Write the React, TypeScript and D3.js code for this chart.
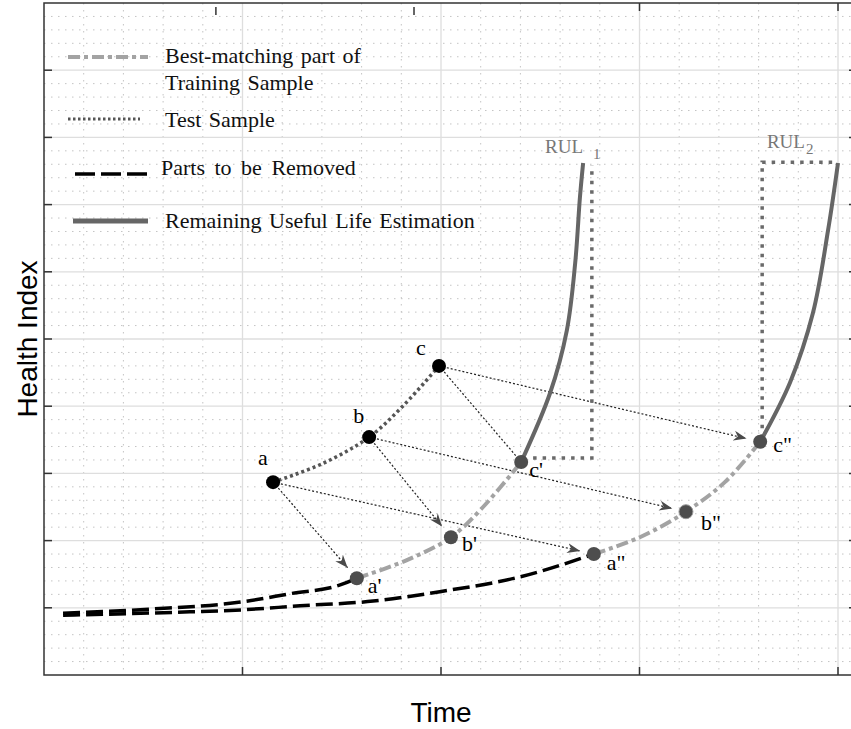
import React from 'react';
import * as d3 from 'd3';

// ---------- data (grid units: x = minor time step, y = health index) ----------
const testSample: [number, number][] = [[5.77, 2.87], [7.03, 3.15], [8.19, 3.54], [9.07, 4.02], [9.95, 4.60]];
const training1: [number, number][] = [[7.88, 1.44], [9.14, 1.71], [10.25, 2.05], [11.06, 2.50], [12.02, 3.17]];
const training2: [number, number][] = [[13.85, 1.80], [15.01, 2.05], [16.17, 2.43], [17.15, 2.87], [18.04, 3.47]];
const removed1: [number, number][] = [[0.48, 0.92], [2.67, 0.98], [5.01, 1.09], [6.20, 1.21], [7.46, 1.34], [7.88, 1.44]];
const removed2: [number, number][] = [[0.48, 0.89], [3.68, 0.94], [5.01, 0.97], [6.45, 1.03], [8.29, 1.10], [9.97, 1.24], [11.99, 1.46], [13.85, 1.80]];
const rul1: [number, number][] = [[12.02, 3.17], [12.75, 4.20], [13.17, 5.13], [13.38, 6.13], [13.50, 7.11], [13.58, 7.62]];
const rul2: [number, number][] = [[18.04, 3.47], [18.79, 4.35], [19.37, 5.39], [19.75, 6.62], [20.0, 7.62]];
const rulBox1: [number, number][] = [[12.32, 3.23], [13.80, 3.23], [13.80, 7.59]];
const rulBox2: [number, number][] = [[18.09, 3.53], [18.09, 7.63], [19.97, 7.63]];

const testPoints = [
  { id: 'a', x: 5.77, y: 2.87 },
  { id: 'b', x: 8.19, y: 3.54 },
  { id: 'c', x: 9.95, y: 4.60 },
];
const trainPoints = [
  { id: "a'", x: 7.88, y: 1.44 },
  { id: "b'", x: 10.25, y: 2.05 },
  { id: "c'", x: 12.02, y: 3.17 },
  { id: 'a"', x: 13.85, y: 1.80 },
  { id: 'b"', x: 16.17, y: 2.43 },
  { id: 'c"', x: 18.04, y: 3.47 },
];
const arrows = [
  { from: 'a', to: "a'", head: true },
  { from: 'a', to: 'a"', head: true },
  { from: 'b', to: "b'", head: true },
  { from: 'b', to: 'b"', head: true },
  { from: 'c', to: "c'", head: false },
  { from: 'c', to: 'c"', head: true },
];
const rulLabels = [
  { main: 'RUL', sub: '1', x: 12.62, y: 7.77 },
  { main: 'RUL', sub: '2', x: 18.21, y: 7.84 },
];
const xMajorTicks = [5, 10, 15, 20];
const yMajorTicks = [1, 2, 3, 4, 5, 6, 7, 8, 9];
const topOddTicks = [4.33, 9.32];
const legendItems = ['Best-matching part of|Training Sample', 'Test Sample', 'Parts to be Removed', 'Remaining Useful Life Estimation'];

// ---------- layout / style ----------
const W = 851, H = 729;
const L = 44, R = 857, T = 3, B = 675;
const X_MAX = (R - L) / 39.7;
const x = d3.scaleLinear().domain([0, X_MAX]).range([L, R]);
const y = d3.scaleLinear().domain([0, 10]).range([B, T]);
const labelOffsets: Record<string, [number, number]> = {
  a: [-15, -17], b: [-16, -14], c: [-23, -11],
  "a'": [11, 15], "b'": [11, 14], "c'": [8, 15],
  'a"': [13, 16], 'b"': [15, 18], 'c"': [13, 10],
};
const SERIF = '"Liberation Serif", "DejaVu Serif", serif';
const SANS = '"Liberation Sans", Arial, sans-serif';

const line = d3.line<[number, number]>().x(d => x(d[0])).y(d => y(d[1])).curve(d3.curveCatmullRom.alpha(0.5));
const smooth = d3.line<[number, number]>().x(d => x(d[0])).y(d => y(d[1])).curve(d3.curveMonotoneX);
const poly = d3.line<[number, number]>().x(d => x(d[0])).y(d => y(d[1]));

export default function App() {
  const minorX = d3.range(1, Math.floor(X_MAX) + 1).filter(v => v % 5 !== 0);
  const minorY = d3.range(0.2, 10, 0.2).filter(v => Math.abs(v - Math.round(v)) > 0.01);
  const all = [...testPoints, ...trainPoints];
  const find = (id: string) => all.find(p => p.id === id)!;

  return (
    <svg width={W} height={H} style={{ position: 'absolute', left: 0, top: 0, background: '#fff' }}>
      <defs>
        <marker id="ah" markerUnits="userSpaceOnUse" markerWidth={15} markerHeight={11} refX={13} refY={5.5} orient="auto">
          <path d="M0,0.5 L13,5.5 L0,10.5 L4,5.5 Z" fill="#4a4a4a" stroke="none" />
        </marker>
        <clipPath id="clip"><rect x={L} y={T} width={R - L} height={B - T} /></clipPath>
      </defs>
      <rect x={0} y={0} width={W} height={H} fill="#fff" />
      {/* grid */}
      <g>
        {minorX.map(v => <line key={'mx' + v} x1={x(v)} x2={x(v)} y1={T} y2={B} stroke="#c4c4c4" strokeWidth={1} strokeDasharray="1.5,5.5" />)}
        {minorY.map(v => <line key={'my' + v} x1={L} x2={R} y1={y(v)} y2={y(v)} stroke="#c4c4c4" strokeWidth={1} strokeDasharray="1.5,5.5" />)}
        {xMajorTicks.map(v => <line key={'Mx' + v} x1={x(v)} x2={x(v)} y1={T} y2={B} stroke="#dedede" strokeWidth={1.3} />)}
        {yMajorTicks.map(v => <line key={'My' + v} x1={L} x2={R} y1={y(v)} y2={y(v)} stroke="#dedede" strokeWidth={1.3} />)}
      </g>
      {/* axes box & ticks */}
      <rect x={L} y={T} width={R - L} height={B - T} fill="none" stroke="#333" strokeWidth={1.5} />
      {xMajorTicks.map(v => <line key={'bt' + v} x1={x(v)} x2={x(v)} y1={B} y2={B - 8} stroke="#333" strokeWidth={1.5} />)}
      {xMajorTicks.filter(v => v >= 15).map(v => <line key={'tt' + v} x1={x(v)} x2={x(v)} y1={T} y2={T + 8} stroke="#333" strokeWidth={1.5} />)}
      {topOddTicks.map(v => <line key={'ot' + v} x1={x(v)} x2={x(v)} y1={T + 4} y2={T + 12} stroke="#333" strokeWidth={1.5} />)}
      {yMajorTicks.map(v => <line key={'lt' + v} x1={L} x2={L + 8} y1={y(v)} y2={y(v)} stroke="#333" strokeWidth={1.5} />)}
      {yMajorTicks.map(v => <line key={'rt' + v} x1={R} x2={R - 8} y1={y(v)} y2={y(v)} stroke="#333" strokeWidth={1.5} />)}

      <g clipPath="url(#clip)">
        {/* arrows */}
        {arrows.map((a, i) => {
          const p = find(a.from), q = find(a.to);
          const x1 = x(p.x), y1 = y(p.y), x2 = x(q.x), y2 = y(q.y);
          const len = Math.hypot(x2 - x1, y2 - y1);
          const s = a.head ? 14 : 6;
          const ex = x2 - (x2 - x1) / len * s, ey = y2 - (y2 - y1) / len * s;
          return <line key={'ar' + i} x1={x1} y1={y1} x2={ex} y2={ey} stroke="#222" strokeWidth={1.2} strokeDasharray="2,2" markerEnd={a.head ? 'url(#ah)' : undefined} />;
        })}
        {/* removed parts */}
        <path d={smooth(removed1)!} fill="none" stroke="#000" strokeWidth={3.5} strokeDasharray="17,6" />
        <path d={smooth(removed2)!} fill="none" stroke="#000" strokeWidth={3.5} strokeDasharray="17,6" />
        {/* training best match */}
        <path d={line(training1)!} fill="none" stroke="#a3a3a3" strokeWidth={4} strokeDasharray="12,4,4,4" />
        <path d={line(training2)!} fill="none" stroke="#a3a3a3" strokeWidth={4} strokeDasharray="12,4,4,4" />
        {/* test sample */}
        <path d={line(testSample)!} fill="none" stroke="#555" strokeWidth={3.5} strokeDasharray="3,3" />
        {/* RUL boxes */}
        <path d={poly(rulBox1)!} fill="none" stroke="#6a6a6a" strokeWidth={3.5} strokeDasharray="3.5,6" />
        <path d={poly(rulBox2)!} fill="none" stroke="#6a6a6a" strokeWidth={3.5} strokeDasharray="3.5,6" />
        {/* RUL curves */}
        <path d={line(rul1)!} fill="none" stroke="#666" strokeWidth={4} />
        <path d={line(rul2)!} fill="none" stroke="#666" strokeWidth={4} />
        {/* points */}
        {testPoints.map(p => <circle key={p.id} cx={x(p.x)} cy={y(p.y)} r={7} fill="#000" />)}
        {trainPoints.map(p => <circle key={p.id} cx={x(p.x)} cy={y(p.y)} r={7} fill="#4d4d4d" stroke={p.id === 'b"' ? '#999' : 'none'} strokeWidth={1} />)}
      </g>
      {/* point labels */}
      {all.map(p => (
        <text key={'l' + p.id} x={x(p.x) + labelOffsets[p.id][0]} y={y(p.y) + labelOffsets[p.id][1]} fontFamily={SERIF} fontSize={22} fill="#000">{p.id}</text>
      ))}
      {/* RUL labels */}
      {rulLabels.map((r, i) => (
        <text key={'rul' + i} x={x(r.x)} y={y(r.y)} fontFamily={SERIF} fontSize={19} fill="#777">
          {r.main}<tspan dx={i === 0 ? 10 : 1} dy={6} fontSize={15}>{r.sub}</tspan>
        </text>
      ))}
      {/* legend */}
      <g fontFamily={SERIF} fontSize={22} fill="#111">
        <line x1={68} x2={148} y1={57} y2={57} stroke="#a3a3a3" strokeWidth={4} strokeDasharray="12,4,4,4" />
        <text x={165} y={63} wordSpacing={2}>{legendItems[0].split('|')[0]}</text>
        <text x={165} y={90} wordSpacing={2}>{legendItems[0].split('|')[1]}</text>
        <line x1={68} x2={140} y1={119} y2={119} stroke="#555" strokeWidth={3} strokeDasharray="2.5,2.5" />
        <text x={165} y={127} wordSpacing={2}>{legendItems[1]}</text>
        <line x1={75} x2={148} y1={174} y2={174} stroke="#000" strokeWidth={3.5} strokeDasharray="20,6" />
        <text x={161} y={175} wordSpacing={4}>{legendItems[2]}</text>
        <line x1={73} x2={148} y1={221} y2={221} stroke="#666" strokeWidth={5} />
        <text x={165} y={228} wordSpacing={2}>{legendItems[3]}</text>
      </g>
      {/* axis titles */}
      <text x={441} y={722} textAnchor="middle" fontFamily={SANS} fontSize={28} fill="#000">Time</text>
      <text transform={`translate(37,339) rotate(-90)`} textAnchor="middle" fontFamily={SANS} fontSize={28} fill="#000">Health Index</text>
    </svg>
  );
}
